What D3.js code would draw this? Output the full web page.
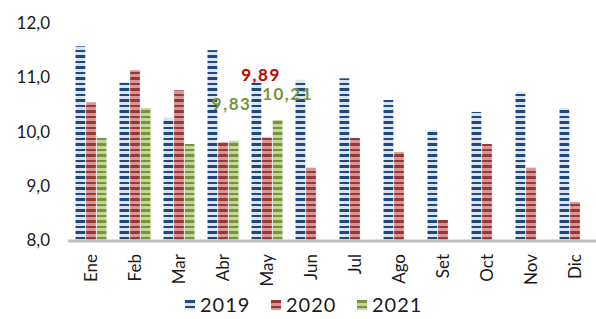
<!DOCTYPE html>
<html>
<head>
<meta charset="utf-8">
<script src="https://cdn.jsdelivr.net/npm/d3@7"></script>
<style>
  body { margin: 0; background: #fff; }
  svg { display: block; font-family: Lato, "Open Sans", sans-serif; }
</style>
</head>
<body>
<svg id="chart"></svg>
<script>
const w = 596;
const h = 319;

// data
const months = ["Ene", "Feb", "Mar", "Abr", "May", "Jun", "Jul", "Ago", "Set", "Oct", "Nov", "Dic"];
const years = ["2019", "2020", "2021"];
const values2019 = [11.57, 10.91, 10.25, 11.50, 10.95, 10.95, 10.98, 10.58, 10.03, 10.36, 10.73, 10.43];
const values2020 = [10.54, 11.13, 10.76, 9.80, 9.89, 9.33, 9.88, 9.62, 8.37, 9.77, 9.33, 8.70];
const values2021 = [9.88, 10.43, 9.77, 9.83, 10.21];
const yTicks = [8, 9, 10, 11, 12];
// labelled points: [year index, month index]
const labelled = [[1, 4], [2, 3], [2, 4]];

const series = [values2019, values2020, values2021];
const darkColors = ["#1f497d", "#953735", "#77933c"];
const lightColors = ["#dbe5f1", "#d99694", "#c3d69b"];
const labelColors = ["#1f497d", "#c00000", "#77933c"];

const locale = d3.formatLocale({ decimal: ",", thousands: ".", grouping: [3], currency: ["", ""] });
const fmt = locale.format(".2f");
const fmtTick = locale.format(".1f");

const svg = d3.select("#chart").attr("width", w).attr("height", h);

// striped fills
const defs = svg.append("defs");
years.forEach((yr, i) => {
  const p = defs.append("pattern")
    .attr("id", "stripe" + i)
    .attr("patternUnits", "userSpaceOnUse")
    .attr("width", 10)
    .attr("height", 11);
  p.append("rect").attr("width", 10).attr("height", 11).attr("fill", lightColors[i]);
  p.append("rect").attr("y", 0).attr("width", 10).attr("height", 3).attr("fill", darkColors[i]);
  p.append("rect").attr("y", 6).attr("width", 10).attr("height", 2).attr("fill", darkColors[i]);
});

const x = d3.scaleBand().domain(months).range([68, 596]);
const xInner = d3.scaleBand().domain(years).range([7.5, 38.5]).paddingInner(0.08);
const y = d3.scaleLinear().domain([8, 12]).range([240, 23]);

// y tick labels (no axis line)
svg.append("g")
  .selectAll("text")
  .data(yTicks)
  .enter()
  .append("text")
  .attr("x", 50)
  .attr("y", d => y(d))
  .attr("dy", "0.36em")
  .attr("text-anchor", "end")
  .attr("font-size", 17)
  .attr("fill", "#1a1a1a")
  .text(d => fmtTick(d));

// bars
series.forEach((vals, i) => {
  svg.append("g")
    .selectAll("rect")
    .data(vals)
    .enter()
    .append("rect")
    .attr("x", (d, j) => x(months[j]) + xInner(years[i]))
    .attr("width", xInner.bandwidth())
    .attr("y", d => y(d))
    .attr("height", d => y(8) - y(d))
    .attr("fill", "url(#stripe" + i + ")");
});

// bottom axis line
svg.append("line")
  .attr("x1", 68).attr("x2", 596)
  .attr("y1", y(8) + 1).attr("y2", y(8) + 1)
  .attr("stroke", "#bfbfbf")
  .attr("stroke-width", 3);

// month labels, rotated
svg.append("g")
  .selectAll("text")
  .data(months)
  .enter()
  .append("text")
  .attr("transform", d => `translate(${x(d) + x.bandwidth() / 2 + 7},254) rotate(-90)`)
  .attr("text-anchor", "end")
  .attr("font-size", 17)
  .attr("fill", "#1a1a1a")
  .text(d => d);

// value labels, nudged off their bars like the original
const labelOffsets = { "1,4": [-6, -56], "2,3": [-2, -31], "2,4": [10, -20] };
svg.append("g")
  .selectAll("text")
  .data(labelled)
  .enter()
  .append("text")
  .attr("x", d => x(months[d[1]]) + xInner(years[d[0]]) + xInner.bandwidth() / 2 + labelOffsets[d.join(",")][0])
  .attr("y", d => y(series[d[0]][d[1]]) + labelOffsets[d.join(",")][1])
  .attr("text-anchor", "middle")
  .attr("font-size", 17)
  .attr("font-weight", "bold")
  .attr("letter-spacing", 1.5)
  .attr("fill", d => labelColors[d[0]])
  .text(d => fmt(series[d[0]][d[1]]));

// legend
const legendX = [185, 271, 357];
const legend = svg.append("g")
  .selectAll("g")
  .data(years)
  .enter()
  .append("g")
  .attr("transform", (d, i) => `translate(${legendX[i]},300)`);
legend.append("rect")
  .attr("width", 10).attr("height", 10)
  .attr("fill", (d, i) => "url(#stripe" + i + ")");
legend.append("text")
  .attr("x", 15)
  .attr("y", 5)
  .attr("dy", "0.36em")
  .attr("font-size", 20)
  .attr("letter-spacing", 1)
  .attr("fill", "#1a1a1a")
  .text(d => d);
</script>
</body>
</html>
